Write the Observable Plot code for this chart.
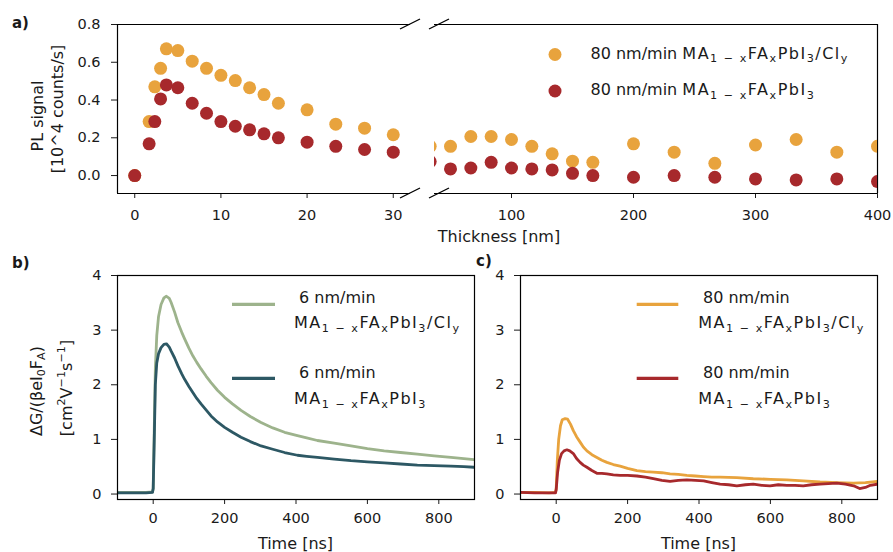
<!DOCTYPE html>
<html><head><meta charset="utf-8">
<script src="https://cdn.jsdelivr.net/npm/d3@7"></script>
<script src="https://cdn.jsdelivr.net/npm/@observablehq/plot@0.6"></script>
<style>
html,body{margin:0;padding:0;background:#fff;}
#fig{position:relative;width:893px;height:552px;overflow:hidden;background:#fff;}
#fig svg{position:absolute;}
</style></head><body><div id="fig"></div>
<script>
// ---------- data: panel a (PL vs thickness) ----------
const thickness = [0, 1.67, 2.33, 3, 3.67, 5, 6.67, 8.33, 10, 11.67, 13.33, 15, 16.67, 20, 23.33, 26.67, 30, 33.33,
  50, 66.67, 83.33, 100, 116.67, 133.33, 150, 166.67, 200, 233.33, 266.67, 300, 333.33, 366.67, 400];
const pl80Cl = [0, 0.286, 0.47, 0.568, 0.671, 0.662, 0.606, 0.568, 0.531, 0.503, 0.465, 0.429, 0.383, 0.348, 0.272, 0.251, 0.216, 0.155,
  0.155, 0.207, 0.207, 0.191, 0.155, 0.115, 0.076, 0.07, 0.168, 0.124, 0.065, 0.162, 0.191, 0.124, 0.155];
const pl80 = [0, 0.168, 0.286, 0.406, 0.48, 0.465, 0.383, 0.33, 0.286, 0.261, 0.242, 0.221, 0.2, 0.177, 0.155, 0.138, 0.124, 0.074,
  0.035, 0.04, 0.07, 0.04, 0.035, 0.03, 0.012, 0.0, -0.009, 0.0, -0.009, -0.018, -0.023, -0.018, -0.032];
const thickTicksLeft = [0, 10, 20, 30];
const thickTicksRight = [100, 200, 300, 400];
const plTicks = [0, 0.2, 0.4, 0.6, 0.8];

// ---------- data: panel b (6 nm/min TRMC) ----------
const timeB = [-100, -60, -20, -2, 0, 3, 6, 10, 15, 22, 30, 37, 45, 50, 60, 69, 80, 88, 100, 111, 122, 134, 148, 162, 180, 200,
  222, 246, 272, 302, 335, 368, 404, 430, 460, 507, 554, 600, 647, 693, 740, 787, 834, 870, 900];
const cond6Cl = [0.03, 0.03, 0.03, 0.04, 0.1, 1.2, 2.3, 2.9, 3.25, 3.47, 3.59, 3.62, 3.58, 3.51, 3.33, 3.14, 2.96, 2.84, 2.67, 2.53,
  2.41, 2.29, 2.16, 2.04, 1.9, 1.77, 1.65, 1.53, 1.42, 1.31, 1.21, 1.13, 1.07, 1.03, 0.98, 0.93, 0.88, 0.83, 0.79, 0.76, 0.73, 0.7, 0.67, 0.65, 0.63];
const cond6 = [0.02, 0.02, 0.02, 0.03, 0.1, 1.0, 2.0, 2.4, 2.57, 2.68, 2.74, 2.75, 2.69, 2.62, 2.49, 2.35, 2.2, 2.1, 1.97, 1.86,
  1.75, 1.65, 1.54, 1.43, 1.32, 1.22, 1.13, 1.04, 0.96, 0.88, 0.82, 0.76, 0.71, 0.69, 0.67, 0.64, 0.61, 0.59, 0.57, 0.55, 0.53, 0.52, 0.51, 0.5, 0.49];

// ---------- data: panel c (80 nm/min TRMC) ----------
const timeC80Cl = [-100, -60, -20, -2, 0, 3, 7, 12, 17, 25, 32, 40, 48, 57, 67, 76, 86, 100, 114, 128, 142, 160, 179, 200, 226, 250,
  272, 296, 319, 342, 366, 390, 413, 436, 459, 506, 552, 600, 646, 692, 739, 786, 833, 866, 899];
const cond80Cl = [0.03, 0.03, 0.02, 0.03, 0.1, 0.6, 1.0, 1.25, 1.36, 1.38, 1.37, 1.28, 1.16, 1.05, 0.95, 0.86, 0.79, 0.72, 0.67, 0.62,
  0.58, 0.54, 0.51, 0.47, 0.43, 0.41, 0.4, 0.39, 0.37, 0.36, 0.34, 0.33, 0.32, 0.31, 0.31, 0.3, 0.28, 0.27, 0.26, 0.24, 0.22, 0.21, 0.2, 0.21, 0.23];
const timeC80 = [-100, -60, -20, -2, 0, 4, 9, 15, 22, 30, 38, 48, 57, 67, 76, 86, 100, 114, 128, 142, 160, 179, 200, 226, 250, 272,
  296, 319, 342, 366, 390, 413, 436, 459, 483, 506, 530, 552, 576, 599, 622, 646, 669, 692, 715, 739, 762, 786, 810, 833, 850, 866, 880, 899];
const cond80 = [0.03, 0.02, 0.02, 0.02, 0.08, 0.4, 0.62, 0.74, 0.79, 0.81, 0.79, 0.74, 0.65, 0.58, 0.53, 0.49, 0.43, 0.38, 0.38, 0.37,
  0.35, 0.34, 0.34, 0.33, 0.31, 0.28, 0.25, 0.23, 0.25, 0.26, 0.25, 0.24, 0.21, 0.18, 0.17, 0.15, 0.17, 0.18, 0.16, 0.15, 0.17, 0.16,
  0.16, 0.15, 0.17, 0.18, 0.19, 0.2, 0.18, 0.15, 0.1, 0.12, 0.16, 0.18];
const timeTicks = [0, 200, 400, 600, 800];
const condTicks = [0, 1, 2, 3, 4];

// ---------- labels ----------
const legendRate80 = "80 nm/min";
const legendRate6 = "6 nm/min";
const mathCl = [["MA","n"],["1 − x","sub"],["FA","n"],["x","sub"],["PbI","n"],["3","sub"],["/Cl","n"],["y","sub"]];
const mathPure = [["MA","n"],["1 − x","sub"],["FA","n"],["x","sub"],["PbI","n"],["3","sub"]];

// ---------- colours ----------
const cOrange = "#e8a33d", cRed = "#a7292c", cSage = "#9db38c", cTeal = "#2d5864";
const ink = "#1a1a1a";

const fig = document.getElementById("fig");
const zipRows = (xs, ys) => xs.map((t, i) => ({t, v: ys[i]}));
const plClRows = zipRows(thickness, pl80Cl);
const plRows = zipRows(thickness, pl80);

const baseStyle = {fontFamily: "DejaVu Sans", fontSize: "14.5px", color: ink, background: "transparent", overflow: "visible"};

function place(svg, left, top) {
  svg.style.left = left + "px";
  svg.style.top = top + "px";
  fig.appendChild(svg);
}

// frame geometry (page px)
const A = {y0: 24, y1: 193, lx0: 117, lx1: 410, rx0: 434, rx1: 877};
const B = {x0: 117, x1: 474, y0: 275, y1: 499};
const C = {x0: 520, x1: 877, y0: 275, y1: 499};
const plDomain = [-0.095, 0.8];
const condDomain = [-0.1, 4];

// panel a, left part
{
  const ml = 60, mr = 10, mt = 10, mb = 35;
  const svg = Plot.plot({
    width: ml + (A.lx1 - A.lx0) + mr, height: mt + (A.y1 - A.y0) + mb,
    marginLeft: ml, marginRight: mr, marginTop: mt, marginBottom: mb,
    style: baseStyle,
    x: {domain: [-2, 32], ticks: thickTicksLeft, tickSize: 5, tickPadding: 11, label: null},
    y: {domain: plDomain, ticks: plTicks, tickFormat: d3.format(".1f"), tickSize: 6, tickPadding: 11, label: null},
    marks: [
      Plot.ruleX([-2], {stroke: "black", strokeWidth: 1.2}),
      Plot.ruleY(plDomain, {stroke: "black", strokeWidth: 1.2}),
      Plot.dot(plClRows, {x: "t", y: "v", r: 6.5, fill: cOrange, stroke: "none", clip: true}),
      Plot.dot(plRows, {x: "t", y: "v", r: 6.5, fill: cRed, stroke: "none", clip: true})
    ]
  });
  place(svg, A.lx0 - ml, A.y0 - mt);
}
// panel a, right part
{
  const ml = 2, mr = 16, mt = 10, mb = 35;
  const xd0 = 400 - (A.rx1 - A.rx0) / 1.22;
  const svg = Plot.plot({
    width: ml + (A.rx1 - A.rx0) + mr, height: mt + (A.y1 - A.y0) + mb,
    marginLeft: ml, marginRight: mr, marginTop: mt, marginBottom: mb,
    style: baseStyle,
    x: {domain: [xd0, 400], ticks: thickTicksRight, tickSize: 5, tickPadding: 11, label: null},
    y: {domain: plDomain, axis: null},
    marks: [
      Plot.ruleX([400], {stroke: "black", strokeWidth: 1.2}),
      Plot.ruleY(plDomain, {stroke: "black", strokeWidth: 1.2}),
      Plot.dot(plClRows, {x: "t", y: "v", r: 6.5, fill: cOrange, stroke: "none", clip: true}),
      Plot.dot(plRows, {x: "t", y: "v", r: 6.5, fill: cRed, stroke: "none", clip: true})
    ]
  });
  place(svg, A.rx0 - ml, A.y0 - mt);
}
// panels b and c
function trmcPanel(G, ml, mr, series) {
  const mt = 10, mb = 30;
  const svg = Plot.plot({
    width: ml + (G.x1 - G.x0) + mr, height: mt + (G.y1 - G.y0) + mb,
    marginLeft: ml, marginRight: mr, marginTop: mt, marginBottom: mb,
    style: baseStyle,
    x: {domain: [-100, 900], ticks: timeTicks, tickFormat: d3.format("d"), tickSize: 5, tickPadding: 8, label: null},
    y: {domain: condDomain, ticks: condTicks, tickFormat: d3.format("d"), tickSize: 6, tickPadding: 10, label: null},
    marks: [
      ...series.map(s => Plot.line(zipRows(s.t, s.v), {x: "t", y: "v", stroke: s.color, strokeWidth: 2.8, clip: true})),
      Plot.frame({stroke: "black", strokeWidth: 1.2})
    ]
  });
  place(svg, G.x0 - ml, G.y0 - mt);
}
trmcPanel(B, 60, 10, [{t: timeB, v: cond6Cl, color: cSage}, {t: timeB, v: cond6, color: cTeal}]);
trmcPanel(C, 45, 16, [{t: timeC80Cl, v: cond80Cl, color: cOrange}, {t: timeC80, v: cond80, color: cRed}]);

// ---------- overlay: labels, legends, axis breaks ----------
const NS = "http://www.w3.org/2000/svg";
const ov = document.createElementNS(NS, "svg");
ov.setAttribute("width", 893); ov.setAttribute("height", 552);
ov.style.cssText = "position:absolute;left:0;top:0;overflow:visible;pointer-events:none";
fig.appendChild(ov);
function el(name, attrs, parent = ov) {
  const e = document.createElementNS(NS, name);
  for (const k in attrs) e.setAttribute(k, attrs[k]);
  parent.appendChild(e);
  return e;
}
function rich(x, y, parts, {size = 16, anchor = "start", rotate = false, weight = "normal", spacing = 0} = {}) {
  const t = el("text", {"font-size": size, "font-family": "DejaVu Sans", fill: ink, "text-anchor": anchor, "font-weight": weight});
  t.style.whiteSpace = "pre";
  if (rotate) { t.setAttribute("transform", `translate(${x},${y}) rotate(-90)`); t.setAttribute("x", 0); t.setAttribute("y", 0); }
  else { t.setAttribute("x", x); t.setAttribute("y", y); }
  let shift = 0;
  for (const [s, mode] of parts) {
    const target = mode === "sub" ? 0.24 * size : mode === "sup" ? -0.42 * size : 0;
    const ts = el("tspan", {dy: target - shift}, t);
    if (mode !== "n") ts.setAttribute("font-size", size * 0.7);
    if (spacing) ts.setAttribute("letter-spacing", spacing);
    ts.textContent = s;
    shift = target;
  }
  return t;
}
// panel letters
rich(12, 28, [["a)", "n"]], {size: 15, weight: "bold"});
rich(12, 268, [["b)", "n"]], {size: 15, weight: "bold"});
rich(476, 266, [["c)", "n"]], {size: 15, weight: "bold"});
// axis titles
rich(499, 241.5, [["Thickness [nm]", "n"]], {anchor: "middle"});
rich(B.x0 + (B.x1 - B.x0) / 2, 549, [["Time [ns]", "n"]], {anchor: "middle"});
rich(C.x0 + (C.x1 - C.x0) / 2, 549, [["Time [ns]", "n"]], {anchor: "middle"});
rich(42.5, 116, [["PL signal", "n"]], {anchor: "middle", rotate: true});
rich(63, 109, [["[10^4 counts/s]", "n"]], {anchor: "middle", rotate: true});
rich(41.5, 391, [["ΔG/(βeI", "n"], ["0", "sub"], ["F", "n"], ["A", "sub"], [")", "n"]], {anchor: "middle", rotate: true});
rich(72, 388, [["[cm", "n"], ["2", "sup"], ["V", "n"], ["−1", "sup"], ["s", "n"], ["−1", "sup"], ["]", "n"]], {anchor: "middle", rotate: true});

// legend a
const mSp = 1.5;
el("circle", {cx: 555, cy: 54.5, r: 6.5, fill: cOrange});
el("circle", {cx: 555, cy: 91, r: 6.5, fill: cRed});
rich(590.5, 58.5, [[legendRate80 + " ", "n"], ...mathCl.map(p => [...p, mSp])]);
rich(590.5, 95, [[legendRate80 + " ", "n"], ...mathPure]);
// legend b
el("line", {x1: 232, x2: 275, y1: 304.3, y2: 304.3, stroke: cSage, "stroke-width": 3.2});
el("line", {x1: 232, x2: 275, y1: 378.3, y2: 378.3, stroke: cTeal, "stroke-width": 3.2});
rich(299, 303.3, [[legendRate6, "n"]]);
rich(294, 328.3, mathCl, {spacing: mSp});
rich(299, 378.3, [[legendRate6, "n"]]);
rich(294, 404, mathPure, {spacing: mSp});
// legend c
el("line", {x1: 636.7, x2: 678.3, y1: 304.3, y2: 304.3, stroke: cOrange, "stroke-width": 3.2});
el("line", {x1: 636.7, x2: 678.3, y1: 378.3, y2: 378.3, stroke: cRed, "stroke-width": 3.2});
rich(703, 303.3, [[legendRate80, "n"]]);
rich(698.3, 328.3, mathCl, {spacing: mSp});
rich(703, 378.3, [[legendRate80, "n"]]);
rich(698.3, 404, mathPure, {spacing: mSp});

// legend a: apply math letter-spacing to the math tspans only
for (const t of Array.from(ov.querySelectorAll("text")).filter(t => t.textContent.startsWith(legendRate80 + " "))) {
  Array.from(t.children).slice(1).forEach(ts => ts.setAttribute("letter-spacing", mSp));
}

// axis-break marks
for (const yc of [A.y0, A.y1]) {
  for (const xc of [410, 439]) {
    el("line", {x1: xc - 10, y1: yc + 5, x2: xc + 10, y2: yc - 5, stroke: "black", "stroke-width": 1.3});
  }
}
</script></body></html>
